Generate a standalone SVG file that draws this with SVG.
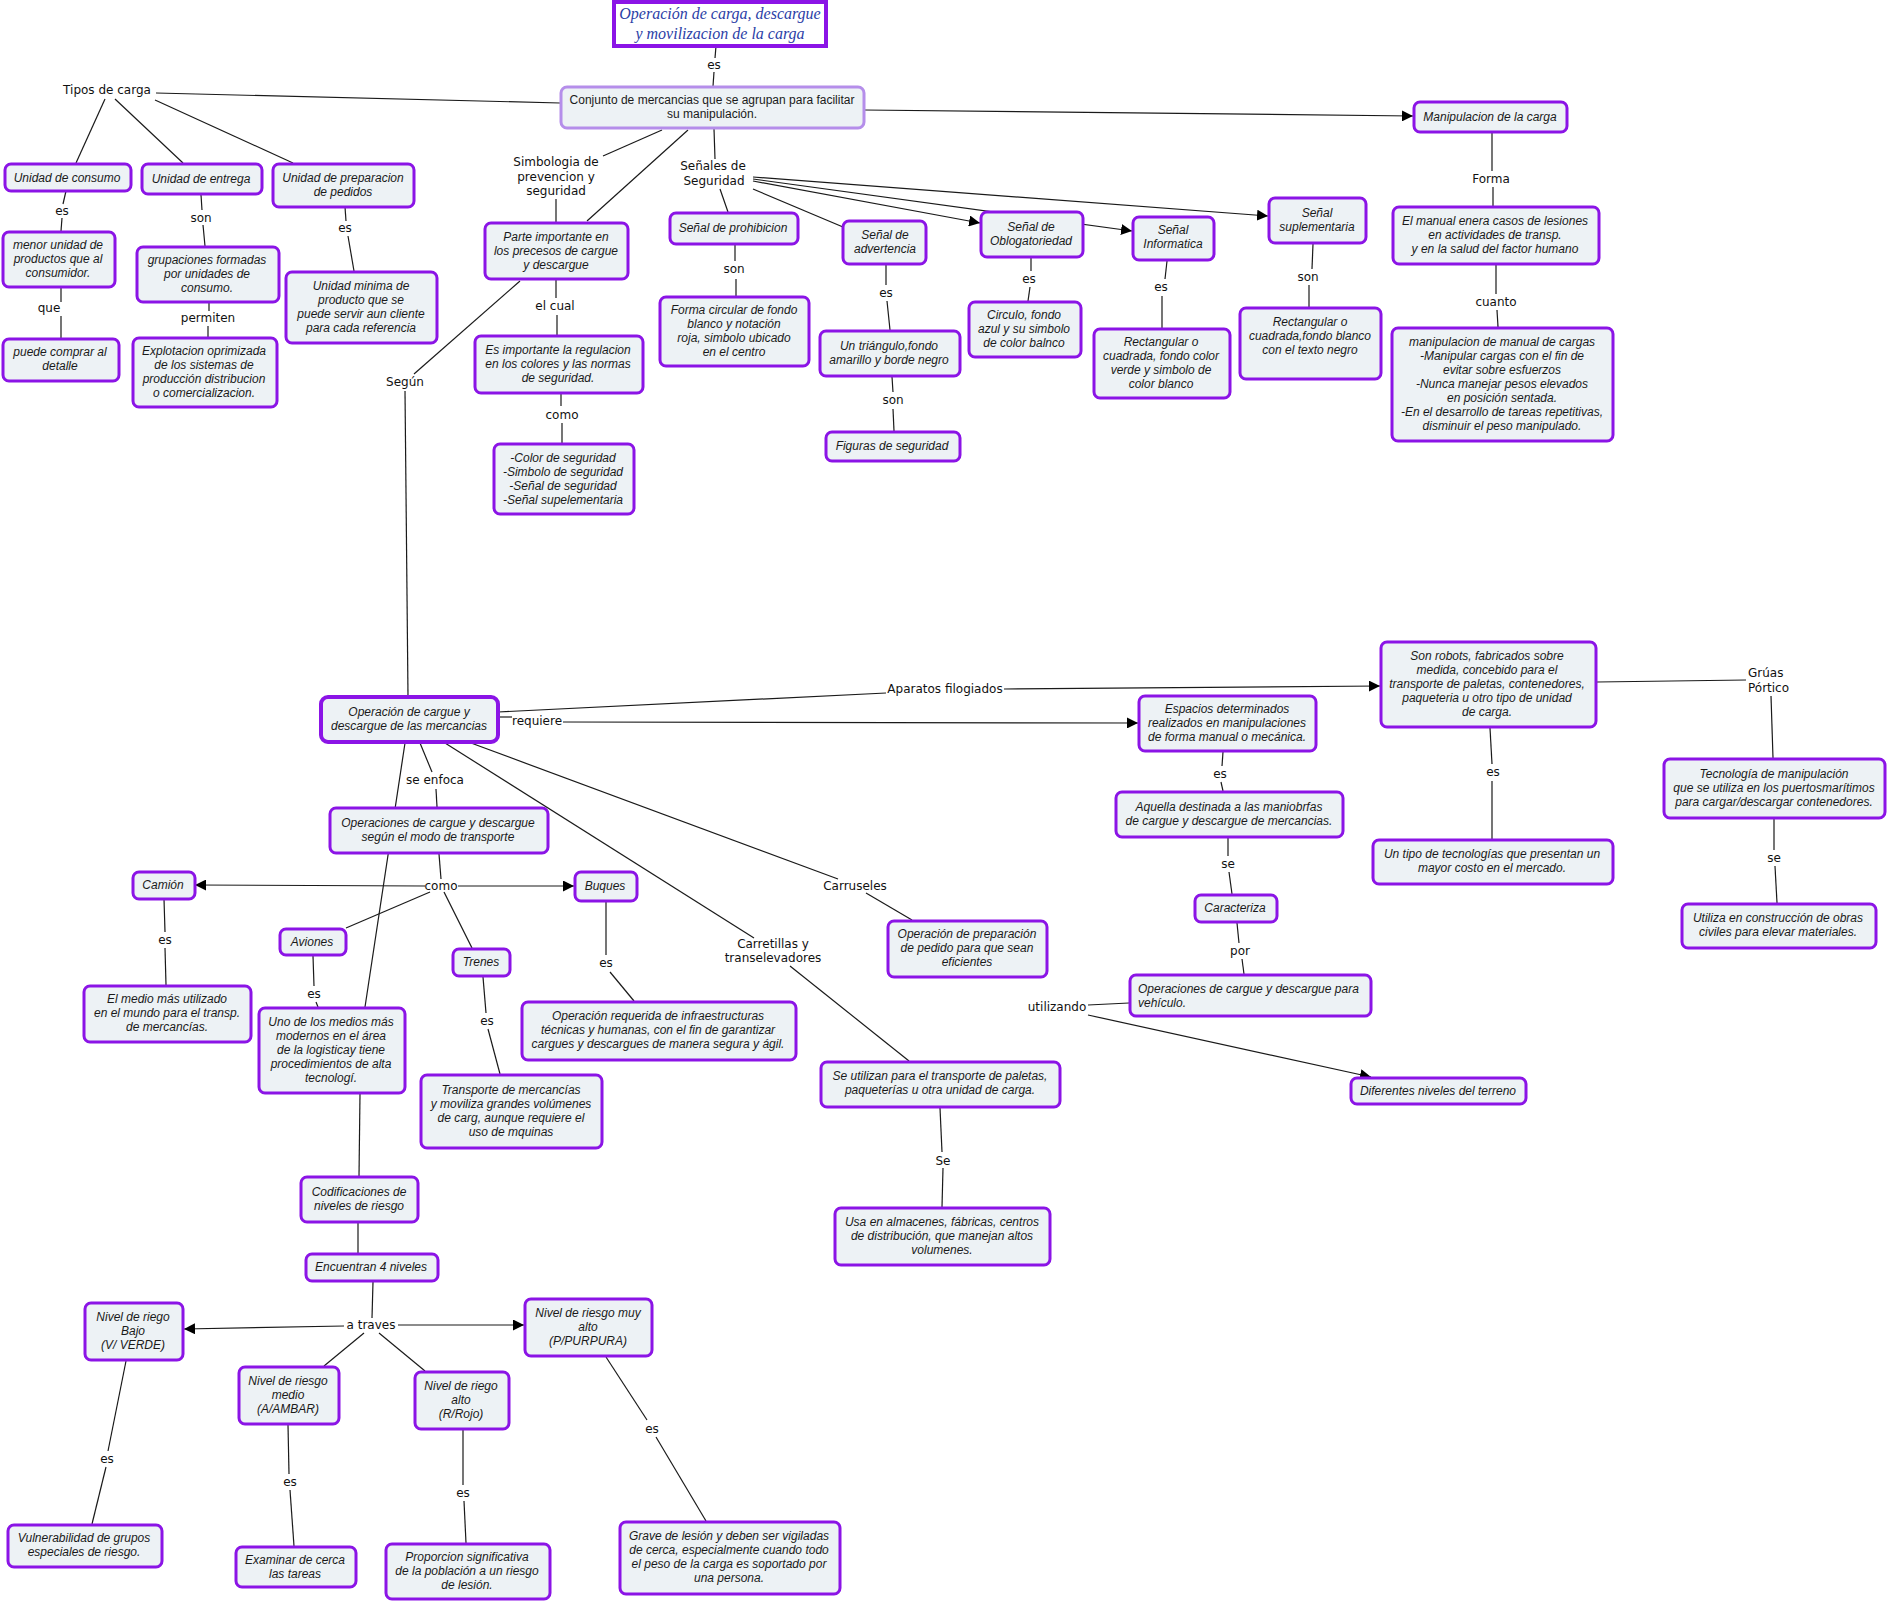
<svg xmlns="http://www.w3.org/2000/svg" width="1889" height="1601" viewBox="0 0 1889 1601">
<defs>
<marker id="ar" markerUnits="userSpaceOnUse" markerWidth="11" markerHeight="11" refX="10" refY="5" orient="auto" viewBox="0 0 10 10"><path d="M0,0 L10,5 L0,10 z" fill="#000"/></marker>
<style>
.n rect{fill:#edf2f5;stroke:#8b14e6;stroke-width:3}
.n text{font-family:"Liberation Sans",Arial,sans-serif;font-size:12px;font-style:italic;text-anchor:middle;fill:#1a1a1a}
.lab text,text.l{font-family:"DejaVu Sans",Verdana,sans-serif;font-size:12px;text-anchor:middle;fill:#111}
#conn line{stroke:#1a1a1a;stroke-width:1.2;fill:none}
#conn line.a{marker-end:url(#ar)}
</style>
</defs>
<rect width="1889" height="1601" fill="#fff"/>
<g id="conn">
<line x1="716" y1="46" x2="715" y2="58"/><line x1="714" y1="72" x2="713" y2="86"/>
<line x1="156" y1="93" x2="560" y2="103"/>
<line x1="105" y1="99" x2="76" y2="163"/>
<line x1="115" y1="99" x2="183" y2="163"/>
<line x1="155" y1="100" x2="293" y2="163"/>
<line x1="66" y1="191" x2="63" y2="204"/><line x1="62" y1="218" x2="61" y2="231"/>
<line x1="61" y1="288" x2="61" y2="302"/><line x1="61" y1="316" x2="61" y2="338"/>
<line x1="201" y1="195" x2="202" y2="210"/><line x1="203" y1="225" x2="205" y2="246"/>
<line x1="209" y1="302" x2="209" y2="311"/><line x1="208" y1="326" x2="208" y2="337"/>
<line x1="345" y1="207" x2="346" y2="221"/><line x1="348" y1="236" x2="354" y2="271"/>
<line x1="662" y1="130" x2="603" y2="156"/><line x1="556" y1="199" x2="556" y2="222"/>
<line x1="688" y1="130" x2="587" y2="221"/>
<line x1="714" y1="129" x2="715" y2="159"/>
<line x1="720" y1="189" x2="728" y2="212"/>
<line x1="753" y1="189" x2="843" y2="227"/>
<line class="a" x1="753" y1="181" x2="980" y2="223"/>
<line class="a" x1="753" y1="179" x2="1132" y2="231"/>
<line class="a" x1="753" y1="177" x2="1268" y2="216"/>
<line class="a" x1="864" y1="110" x2="1413" y2="116"/>
<line x1="1492" y1="133" x2="1492" y2="171"/><line x1="1493" y1="187" x2="1493" y2="206"/>
<line x1="1496" y1="265" x2="1496" y2="294"/><line x1="1497" y1="310" x2="1498" y2="327"/>
<line x1="1031" y1="258" x2="1031" y2="271"/><line x1="1030" y1="287" x2="1028" y2="301"/>
<line x1="1167" y1="261" x2="1165" y2="279"/><line x1="1162" y1="296" x2="1162" y2="328"/>
<line x1="1313" y1="244" x2="1312" y2="269"/><line x1="1309" y1="285" x2="1309" y2="307"/>
<line x1="735" y1="245" x2="735" y2="261"/><line x1="736" y1="279" x2="736" y2="296"/>
<line x1="886" y1="265" x2="886" y2="285"/><line x1="887" y1="301" x2="890" y2="330"/>
<line x1="892" y1="377" x2="893" y2="392"/><line x1="893" y1="409" x2="894" y2="431"/>
<line x1="556" y1="280" x2="556" y2="298"/><line x1="557" y1="315" x2="557" y2="335"/>
<line x1="561" y1="394" x2="561" y2="406"/><line x1="562" y1="423" x2="562" y2="443"/>
<line x1="520" y1="281" x2="414" y2="374"/>
<line x1="405" y1="391" x2="408" y2="696"/>
<line x1="498" y1="712" x2="886" y2="693"/>
<line class="a" x1="1004" y1="689" x2="1380" y2="686"/>
<line x1="498" y1="717" x2="512" y2="717"/>
<line class="a" x1="563" y1="722" x2="1138" y2="723"/>
<line x1="420" y1="743" x2="432" y2="772"/><line x1="436" y1="789" x2="437" y2="807"/>
<line x1="405" y1="743" x2="365" y2="1007"/>
<line x1="445" y1="743" x2="754" y2="938"/><line x1="790" y1="966" x2="909" y2="1061"/>
<line x1="471" y1="743" x2="838" y2="879"/><line x1="866" y1="893" x2="912" y2="920"/>
<line x1="439" y1="854" x2="441" y2="879"/>
<line class="a" x1="425" y1="886" x2="195" y2="885"/>
<line class="a" x1="458" y1="886" x2="574" y2="886"/>
<line x1="430" y1="892" x2="346" y2="928"/>
<line x1="444" y1="892" x2="472" y2="948"/>
<line x1="164" y1="899" x2="165" y2="932"/><line x1="165" y1="948" x2="166" y2="985"/>
<line x1="313" y1="956" x2="314" y2="986"/><line x1="316" y1="1002" x2="318" y2="1007"/>
<line x1="483" y1="977" x2="486" y2="1013"/><line x1="488" y1="1029" x2="500" y2="1074"/>
<line x1="606" y1="902" x2="606" y2="955"/><line x1="610" y1="972" x2="634" y2="1001"/>
<line x1="940" y1="1108" x2="942" y2="1152"/><line x1="943" y1="1168" x2="942" y2="1207"/>
<line x1="360" y1="1094" x2="359" y2="1176"/>
<line x1="358" y1="1222" x2="358" y2="1253"/>
<line x1="373" y1="1282" x2="372" y2="1318"/>
<line class="a" x1="344" y1="1326" x2="184" y2="1329"/>
<line class="a" x1="398" y1="1325" x2="524" y2="1325"/>
<line x1="364" y1="1333" x2="324" y2="1366"/>
<line x1="379" y1="1333" x2="425" y2="1371"/>
<line x1="126" y1="1361" x2="108" y2="1451"/><line x1="106" y1="1467" x2="92" y2="1524"/>
<line x1="288" y1="1425" x2="289" y2="1474"/><line x1="290" y1="1490" x2="294" y2="1546"/>
<line x1="463" y1="1430" x2="463" y2="1485"/><line x1="464" y1="1501" x2="466" y2="1543"/>
<line x1="606" y1="1357" x2="647" y2="1420"/><line x1="656" y1="1437" x2="706" y2="1521"/>
<line x1="1597" y1="682" x2="1746" y2="680"/><line x1="1771" y1="696" x2="1773" y2="758"/>
<line x1="1774" y1="819" x2="1774" y2="850"/><line x1="1775" y1="866" x2="1777" y2="903"/>
<line x1="1490" y1="728" x2="1492" y2="764"/><line x1="1492" y1="781" x2="1492" y2="839"/>
<line x1="1223" y1="752" x2="1222" y2="766"/><line x1="1221" y1="782" x2="1223" y2="791"/>
<line x1="1228" y1="838" x2="1228" y2="856"/><line x1="1229" y1="872" x2="1232" y2="894"/>
<line x1="1237" y1="923" x2="1239" y2="943"/><line x1="1242" y1="959" x2="1244" y2="974"/>
<line x1="1129" y1="1003" x2="1088" y2="1005"/>
<line class="a" x1="1088" y1="1015" x2="1371" y2="1077"/>
</g>
<g class="lab">
<text x="714" y="69">es</text>
<text x="107" y="94">Tipos de carga</text>
<text x="62" y="215">es</text>
<text x="201" y="222">son</text>
<text x="345" y="232">es</text>
<text x="49" y="312">que</text>
<text x="208" y="322">permiten</text>
<text x="556" y="166">Simbologia de</text><text x="556" y="181">prevencion y</text><text x="556" y="195">seguridad</text>
<text x="713" y="170">Señales de</text><text x="714" y="185">Seguridad</text>
<text x="555" y="310">el cual</text>
<text x="562" y="419">como</text>
<text x="405" y="386">Según</text>
<text x="734" y="273">son</text>
<text x="886" y="297">es</text>
<text x="893" y="404">son</text>
<text x="1491" y="183">Forma</text>
<text x="1496" y="306">cuanto</text>
<text x="1029" y="283">es</text>
<text x="1161" y="291">es</text>
<text x="1308" y="281">son</text>
<text x="945" y="693">Aparatos filogiados</text>
<text x="537" y="725">requiere</text>
<text x="435" y="784">se enfoca</text>
<text x="441" y="890">como</text>
<text x="165" y="944">es</text>
<text x="314" y="998">es</text>
<text x="487" y="1025">es</text>
<text x="606" y="967">es</text>
<text x="773" y="948">Carretillas y</text><text x="773" y="962">transelevadores</text>
<text x="855" y="890">Carruseles</text>
<text x="943" y="1165">Se</text>
<text x="1057" y="1011">utilizando</text>
<text x="1748" y="677" style="text-anchor:start">Grúas</text><text x="1748" y="692" style="text-anchor:start">Pórtico</text>
<text x="1220" y="778">es</text>
<text x="1228" y="868">se</text>
<text x="1240" y="955">por</text>
<text x="1493" y="776">es</text>
<text x="1774" y="862">se</text>
<text x="371" y="1329">a traves</text>
<text x="107" y="1463">es</text>
<text x="290" y="1486">es</text>
<text x="463" y="1497">es</text>
<text x="652" y="1433">es</text>
</g>
<g id="title"><rect x="614" y="2" width="212" height="44" fill="#fff" stroke="#8b14e6" stroke-width="4"/>
<text x="720" y="19" style="font-family:'Liberation Serif','Times New Roman',serif;font-size:16px;font-style:italic;text-anchor:middle;fill:#2b40a6">Operación de carga, descargue</text>
<text x="720" y="39" style="font-family:'Liberation Serif','Times New Roman',serif;font-size:16px;font-style:italic;text-anchor:middle;fill:#2b40a6">y movilizacion de la carga</text></g>
<g id="conjunto" class="n"><rect x="561" y="87" width="303" height="41" rx="6" style="stroke:#b58eea"/><text x="712" y="104" style="font-style:normal">Conjunto de mercancias que se agrupan para facilitar</text><text x="712" y="118" style="font-style:normal">su manipulación.</text></g>
<g id="manipulacion" class="n"><rect x="1414" y="102" width="153" height="30" rx="6"/><text x="1490" y="121">Manipulacion de la carga</text></g>
<g id="u-consumo" class="n"><rect x="5" y="164" width="126" height="27" rx="6"/><text x="67" y="182">Unidad de consumo</text></g>
<g id="u-entrega" class="n"><rect x="142" y="164" width="120" height="30" rx="6"/><text x="201" y="183">Unidad de entrega</text></g>
<g id="u-prep" class="n"><rect x="273" y="164" width="141" height="43" rx="6"/><text x="343" y="182">Unidad de preparacion</text><text x="343" y="196">de pedidos</text></g>
<g id="menor" class="n"><rect x="3" y="232" width="112" height="55" rx="6"/><text x="58" y="249">menor unidad de</text><text x="58" y="263">productos que al</text><text x="58" y="277">consumidor.</text></g>
<g id="grup" class="n"><rect x="137" y="247" width="142" height="55" rx="6"/><text x="207" y="264">grupaciones formadas</text><text x="207" y="278">por unidades de</text><text x="207" y="292">consumo.</text></g>
<g id="minima" class="n"><rect x="286" y="272" width="151" height="71" rx="6"/><text x="361" y="290">Unidad minima de</text><text x="361" y="304">producto que se</text><text x="361" y="318">puede servir aun cliente</text><text x="361" y="332">para cada referencia</text></g>
<g id="puede" class="n"><rect x="3" y="339" width="116" height="42" rx="6"/><text x="60" y="356">puede comprar al</text><text x="60" y="370">detalle</text></g>
<g id="explot" class="n"><rect x="133" y="338" width="144" height="69" rx="6"/><text x="204" y="355">Explotacion oprimizada</text><text x="204" y="369">de los sistemas de</text><text x="204" y="383">producción distribucion</text><text x="204" y="397">o comercializacion.</text></g>
<g id="parte" class="n"><rect x="485" y="223" width="143" height="56" rx="6"/><text x="556" y="241">Parte importante en</text><text x="556" y="255">los precesos de cargue</text><text x="556" y="269">y descargue</text></g>
<g id="prohib" class="n"><rect x="670" y="213" width="128" height="31" rx="6"/><text x="733" y="232">Señal de prohibicion</text></g>
<g id="advert" class="n"><rect x="843" y="221" width="83" height="43" rx="6"/><text x="885" y="239">Señal de</text><text x="885" y="253">advertencia</text></g>
<g id="esimp" class="n"><rect x="475" y="336" width="168" height="57" rx="6"/><text x="558" y="354">Es importante la regulacion</text><text x="558" y="368">en los colores y las normas</text><text x="558" y="382">de seguridad.</text></g>
<g id="circular" class="n"><rect x="660" y="297" width="149" height="69" rx="6"/><text x="734" y="314">Forma circular de fondo</text><text x="734" y="328">blanco y notación</text><text x="734" y="342">roja, simbolo ubicado</text><text x="734" y="356">en el centro</text></g>
<g id="triangulo" class="n"><rect x="820" y="331" width="140" height="45" rx="6"/><text x="889" y="350">Un triángulo,fondo</text><text x="889" y="364">amarillo y borde negro</text></g>
<g id="figuras" class="n"><rect x="826" y="432" width="134" height="29" rx="6"/><text x="892" y="450">Figuras de seguridad</text></g>
<g id="color" class="n"><rect x="494" y="444" width="140" height="70" rx="6"/><text x="563" y="462">-Color de seguridad</text><text x="563" y="476">-Simbolo de seguridad</text><text x="563" y="490">-Señal de seguridad</text><text x="563" y="504">-Señal supelementaria</text></g>
<g id="oblog" class="n"><rect x="981" y="212" width="102" height="45" rx="6"/><text x="1031" y="231">Señal de</text><text x="1031" y="245">Oblogatoriedad</text></g>
<g id="informatica" class="n"><rect x="1133" y="217" width="81" height="43" rx="6"/><text x="1173" y="234">Señal</text><text x="1173" y="248">Informatica</text></g>
<g id="suplem" class="n"><rect x="1269" y="198" width="97" height="45" rx="6"/><text x="1317" y="217">Señal</text><text x="1317" y="231">suplementaria</text></g>
<g id="elmanual" class="n"><rect x="1393" y="207" width="206" height="57" rx="6"/><text x="1495" y="225">El manual enera casos de lesiones</text><text x="1495" y="239">en actividades de transp.</text><text x="1495" y="253">y en la salud del factor humano</text></g>
<g id="circulo" class="n"><rect x="969" y="302" width="112" height="55" rx="6"/><text x="1024" y="319">Circulo, fondo</text><text x="1024" y="333">azul y su simbolo</text><text x="1024" y="347">de color balnco</text></g>
<g id="rectverde" class="n"><rect x="1094" y="329" width="136" height="69" rx="6"/><text x="1161" y="346">Rectangular o</text><text x="1161" y="360">cuadrada, fondo color</text><text x="1161" y="374">verde y simbolo de</text><text x="1161" y="388">color blanco</text></g>
<g id="rectblanco" class="n"><rect x="1240" y="308" width="141" height="71" rx="6"/><text x="1310" y="326">Rectangular o</text><text x="1310" y="340">cuadrada,fondo blanco</text><text x="1310" y="354">con el texto negro</text></g>
<g id="manualcargas" class="n"><rect x="1392" y="328" width="221" height="113" rx="6"/><text x="1502" y="346">manipulacion de manual de cargas</text><text x="1502" y="360">-Manipular cargas con el fin de</text><text x="1502" y="374">evitar sobre esfuerzos</text><text x="1502" y="388">-Nunca manejar pesos elevados</text><text x="1502" y="402">en posición sentada.</text><text x="1502" y="416">-En el desarrollo de tareas repetitivas,</text><text x="1502" y="430">disminuir el peso manipulado.</text></g>
<g id="opcargue" class="n"><rect x="321" y="697" width="177" height="45" rx="7" style="stroke-width:4"/><text x="409" y="716">Operación de cargue y</text><text x="409" y="730">descargue de las mercancias</text></g>
<g id="opmodo" class="n"><rect x="330" y="808" width="218" height="45" rx="6"/><text x="438" y="827">Operaciones de cargue y descargue</text><text x="438" y="841">según el modo de transporte</text></g>
<g id="buques" class="n"><rect x="575" y="872" width="62" height="29" rx="6"/><text x="605" y="890">Buques</text></g>
<g id="trenes" class="n"><rect x="453" y="949" width="57" height="27" rx="6"/><text x="481" y="966">Trenes</text></g>
<g id="camion" class="n"><rect x="133" y="872" width="62" height="27" rx="6"/><text x="163" y="889">Camión</text></g>
<g id="aviones" class="n"><rect x="280" y="929" width="66" height="26" rx="6"/><text x="312" y="946">Aviones</text></g>
<g id="elmedio" class="n"><rect x="84" y="986" width="167" height="56" rx="6"/><text x="167" y="1003">El medio más utilizado</text><text x="167" y="1017">en el mundo para el transp.</text><text x="167" y="1031">de mercancías.</text></g>
<g id="unomedios" class="n"><rect x="259" y="1008" width="146" height="85" rx="6"/><text x="331" y="1026">Uno de los medios más</text><text x="331" y="1040">modernos en el área</text><text x="331" y="1054">de la logisticay tiene</text><text x="331" y="1068">procedimientos de alta</text><text x="331" y="1082">tecnologí.</text></g>
<g id="transporte" class="n"><rect x="421" y="1075" width="181" height="73" rx="6"/><text x="511" y="1094">Transporte de mercancías</text><text x="511" y="1108">y moviliza grandes volúmenes</text><text x="511" y="1122">de carg, aunque requiere el</text><text x="511" y="1136">uso de mquinas</text></g>
<g id="oprequerida" class="n"><rect x="522" y="1002" width="274" height="58" rx="6"/><text x="658" y="1020">Operación requerida de infraestructuras</text><text x="658" y="1034">técnicas y humanas, con el fin de garantizar</text><text x="658" y="1048">cargues y descargues de manera segura y ágil.</text></g>
<g id="codif" class="n"><rect x="301" y="1177" width="117" height="45" rx="6"/><text x="359" y="1196">Codificaciones de</text><text x="359" y="1210">niveles de riesgo</text></g>
<g id="encuentran" class="n"><rect x="306" y="1254" width="132" height="27" rx="6"/><text x="371" y="1271">Encuentran 4 niveles</text></g>
<g id="bajo" class="n"><rect x="85" y="1303" width="98" height="57" rx="6"/><text x="133" y="1321">Nivel de riego</text><text x="133" y="1335">Bajo</text><text x="133" y="1349">(V/ VERDE)</text></g>
<g id="muyalto" class="n"><rect x="525" y="1299" width="127" height="57" rx="6"/><text x="588" y="1317">Nivel de riesgo muy</text><text x="588" y="1331">alto</text><text x="588" y="1345">(P/PURPURA)</text></g>
<g id="medio" class="n"><rect x="239" y="1367" width="100" height="57" rx="6"/><text x="288" y="1385">Nivel de riesgo</text><text x="288" y="1399">medio</text><text x="288" y="1413">(A/AMBAR)</text></g>
<g id="alto" class="n"><rect x="415" y="1372" width="94" height="57" rx="6"/><text x="461" y="1390">Nivel de riego</text><text x="461" y="1404">alto</text><text x="461" y="1418">(R/Rojo)</text></g>
<g id="vulner" class="n"><rect x="8" y="1525" width="154" height="42" rx="6"/><text x="84" y="1542">Vulnerabilidad de grupos</text><text x="84" y="1556">especiales de riesgo.</text></g>
<g id="examinar" class="n"><rect x="236" y="1547" width="120" height="40" rx="6"/><text x="295" y="1564">Examinar de cerca</text><text x="295" y="1578">las tareas</text></g>
<g id="proporcion" class="n"><rect x="386" y="1544" width="164" height="55" rx="6"/><text x="467" y="1561">Proporcion significativa</text><text x="467" y="1575">de la población a un riesgo</text><text x="467" y="1589">de lesión.</text></g>
<g id="grave" class="n"><rect x="620" y="1522" width="220" height="72" rx="6"/><text x="729" y="1540">Grave de lesión y deben ser vigiladas</text><text x="729" y="1554">de cerca, especialmente cuando todo</text><text x="729" y="1568">el peso de la carga es soportado por</text><text x="729" y="1582">una persona.</text></g>
<g id="preparacion" class="n"><rect x="888" y="921" width="159" height="56" rx="6"/><text x="967" y="938">Operación de preparación</text><text x="967" y="952">de pedido para que sean</text><text x="967" y="966">eficientes</text></g>
<g id="seutilizan" class="n"><rect x="821" y="1062" width="239" height="45" rx="6"/><text x="940" y="1080">Se utilizan para el transporte de paletas,</text><text x="940" y="1094">paqueterías u otra unidad de carga.</text></g>
<g id="usa" class="n"><rect x="835" y="1208" width="215" height="57" rx="6"/><text x="942" y="1226">Usa en almacenes, fábricas, centros</text><text x="942" y="1240">de distribución, que manejan altos</text><text x="942" y="1254">volumenes.</text></g>
<g id="robots" class="n"><rect x="1381" y="642" width="215" height="85" rx="6"/><text x="1487" y="660">Son robots, fabricados sobre</text><text x="1487" y="674">medida, concebido para el</text><text x="1487" y="688">transporte de paletas, contenedores,</text><text x="1487" y="702">paqueteria u otro tipo de unidad</text><text x="1487" y="716">de carga.</text></g>
<g id="espacios" class="n"><rect x="1139" y="696" width="177" height="55" rx="6"/><text x="1227" y="713">Espacios determinados</text><text x="1227" y="727">realizados en manipulaciones</text><text x="1227" y="741">de forma manual o mecánica.</text></g>
<g id="aquella" class="n"><rect x="1116" y="792" width="227" height="45" rx="6"/><text x="1229" y="811">Aquella destinada a las maniobrfas</text><text x="1229" y="825">de cargue y descargue de mercancias.</text></g>
<g id="caracteriza" class="n"><rect x="1195" y="895" width="82" height="27" rx="6"/><text x="1235" y="912">Caracteriza</text></g>
<g id="opvehiculo" class="n"><rect x="1130" y="975" width="241" height="41" rx="6"/><text x="1138" y="993" style="text-anchor:start">Operaciones de cargue y descargue para</text><text x="1138" y="1007" style="text-anchor:start">vehículo.</text></g>
<g id="untipo" class="n"><rect x="1373" y="840" width="240" height="44" rx="6"/><text x="1492" y="858">Un tipo de tecnologías que presentan un</text><text x="1492" y="872">mayor costo en el mercado.</text></g>
<g id="tecnologia" class="n"><rect x="1664" y="759" width="221" height="59" rx="6"/><text x="1774" y="778">Tecnología de manipulación</text><text x="1774" y="792">que se utiliza en los puertosmarítimos</text><text x="1774" y="806">para cargar/descargar contenedores.</text></g>
<g id="utiliza" class="n"><rect x="1682" y="904" width="194" height="44" rx="6"/><text x="1778" y="922">Utiliza en construcción de obras</text><text x="1778" y="936">civiles para elevar materiales.</text></g>
<g id="diferentes" class="n"><rect x="1351" y="1078" width="175" height="26" rx="6"/><text x="1438" y="1095">Diferentes niveles del terreno</text></g>
</svg>
